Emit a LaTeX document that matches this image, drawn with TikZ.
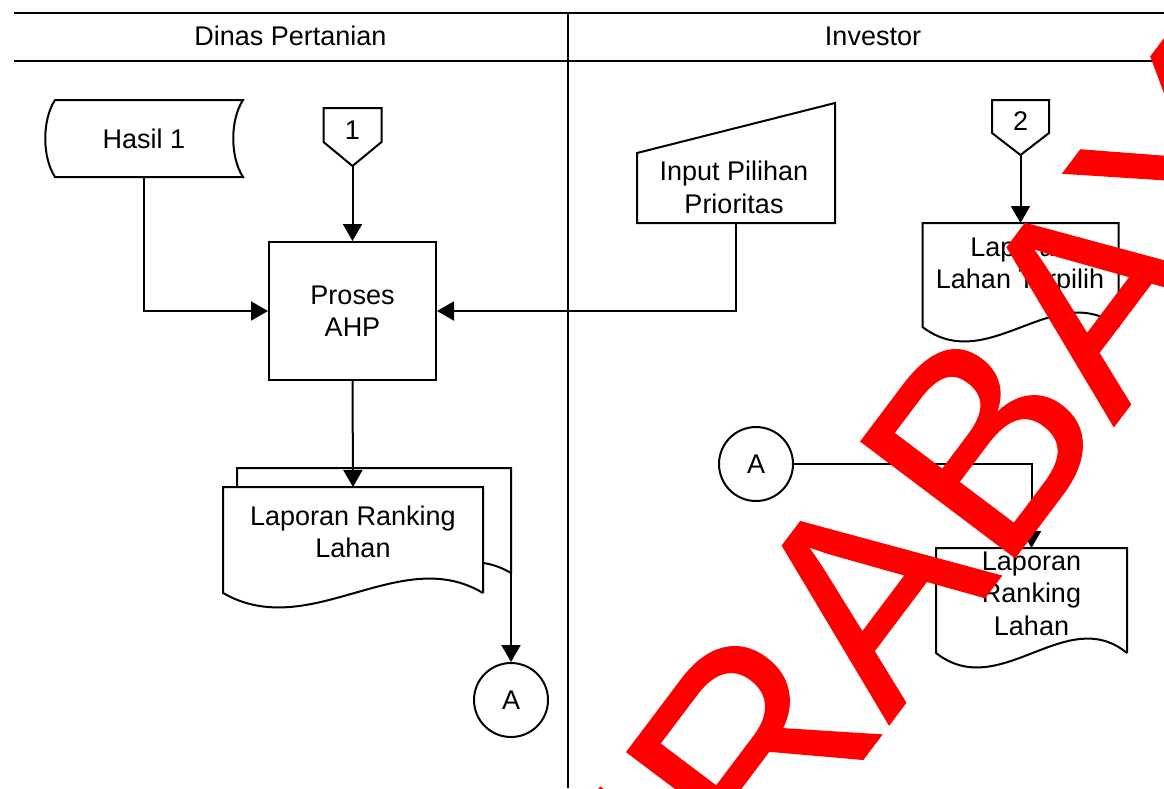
\documentclass[tikz,border=0pt]{standalone}
\usepackage{fontspec}
\setmainfont{Liberation Sans}
\newfontfamily\wmfont[FakeBold=0.6]{Liberation Sans}
\usetikzlibrary{arrows.meta,calc}
\definecolor{wmred}{RGB}{255,0,0}
\begin{document}
\begin{tikzpicture}[x=1pt,y=-1pt,
  rule/.style={draw=black, line width=2pt},
  shapeframe/.style={draw=none, rectangle, inner sep=0pt, outer sep=0pt},
  shapeline/.style={draw=black, line width=2pt, line join=miter},
  lbl/.style={inner sep=0pt, align=center, text=black, font=\fontsize{27}{32.5}\selectfont},
  procbox/.style={draw=black, line width=2pt, rectangle, inner sep=0pt, align=center, font=\fontsize{27}{32.5}\selectfont},
  conn/.style={draw=black, line width=2pt, circle, minimum size=74pt, inner sep=0pt, font=\fontsize{27}{32.5}\selectfont},
  flowarrow/.style={draw=black, line width=2pt, -{Triangle[length=17pt,width=19pt]}},
]
\useasboundingbox (0,0) rectangle (1164,788);

% swimlane frame
\draw[rule] (14,13) -- (1164,13);
\draw[rule] (14,61) -- (1164,61);
\draw[rule] (568,13) -- (568,788);
\node[lbl] (laneA) at (290.5,36) {Dinas Pertanian};
\node[lbl] (laneB) at (873,36) {Investor};

% stored data: Hasil 1
\node[shapeframe, minimum width=198pt, minimum height=77pt] (hasil) at (144,138.5) {};
\draw[shapeline] ($(hasil.north west)+(10,0)$) -- (hasil.north east)
  .. controls +(-13,20) and +(-13,-20) .. (hasil.south east)
  -- ($(hasil.south west)+(10,0)$)
  .. controls +(-13,-20) and +(-13,20) .. ($(hasil.north west)+(10,0)$) -- cycle;
\node[lbl] (hasil-t) at (hasil) {Hasil 1};

% off-page connector 1
\node[shapeframe, minimum width=58pt, minimum height=58pt] (c1) at (352.5,137) {};
\draw[shapeline] (c1.north west) -- (c1.north east) -- ($(c1.north east)+(0,34)$)
  -- (c1.south) -- ($(c1.north west)+(0,34)$) -- cycle;
\node[lbl] (c1-t) at (352.5,130) {1};

% process
\node[procbox, minimum width=167pt, minimum height=138pt] (proses) at (352.5,311) {Proses\\AHP};

% manual input
\node[shapeframe, minimum width=198pt, minimum height=120pt] (inp) at (736,163) {};
\draw[shapeline] (inp.south west) -- ($(inp.north west)+(0,50)$) -- (inp.north east)
  -- (inp.south east) -- cycle;
\node[lbl] (inp-t) at (734,187.5) {Input Pilihan\\Prioritas};

% off-page connector 2
\node[shapeframe, minimum width=57pt, minimum height=55pt] (c2) at (1020.5,127.5) {};
\draw[shapeline] (c2.north west) -- (c2.north east) -- ($(c2.north east)+(0,33)$)
  -- (c2.south) -- ($(c2.north west)+(0,33)$) -- cycle;
\node[lbl] (c2-t) at (1020.5,121) {2};

% document: Laporan Lahan Terpilih
\node[shapeframe, minimum width=196pt, minimum height=104pt] (lt) at (1020.5,275) {};
\draw[shapeline] (lt.south east) -- (lt.north east) -- (lt.north west) -- (lt.south west)
  .. controls ($(lt.south west)!0.335!(lt.south east)+(0,50)$)
  and ($(lt.south west)!0.68!(lt.south east)+(0,-50)$) .. (lt.south east);
\node[lbl] (lt-t) at (1020,266) {Laporan\\Lahan Terpilih};

% multi-document: Laporan Ranking Lahan
\node[shapeframe, minimum width=260pt, minimum height=106pt] (lrl) at (353,540) {};
\coordinate (lrl-out) at ($(lrl.south east)+(28,-20)$);
\draw[shapeline] ($(lrl.north west)+(14,0)$) -- ($(lrl.north west)+(14,-19)$)
  -- ($(lrl.north east)+(28,-19)$) -- (lrl-out)
  .. controls +(-10,-6) and +(8,1) .. ($(lrl.south east)+(0,-30)$);
\draw[shapeline] (lrl.south east) -- (lrl.north east) -- (lrl.north west) -- (lrl.south west)
  .. controls ($(lrl.south west)!0.335!(lrl.south east)+(0,50)$)
  and ($(lrl.south west)!0.68!(lrl.south east)+(0,-50)$) .. (lrl.south east);
\node[lbl] (lrl-t) at (353,532) {Laporan Ranking\\Lahan};

% on-page connectors
\node[conn] (aL) at (511,700) {A};
\node[conn] (aR) at (756,464) {A};

% document: Laporan Ranking Lahan (investor)
\node[shapeframe, minimum width=191pt, minimum height=105pt] (rrl) at (1031.5,600.5) {};
\draw[shapeline] (rrl.south east) -- (rrl.north east) -- (rrl.north west) -- (rrl.south west)
  .. controls ($(rrl.south west)!0.335!(rrl.south east)+(0,50)$)
  and ($(rrl.south west)!0.68!(rrl.south east)+(0,-50)$) .. (rrl.south east);
\node[lbl] (rrl-t) at (1031.5,593.5) {Laporan\\Ranking\\Lahan};

% flows
\draw[flowarrow] (hasil.south) |- (proses.west);
\draw[flowarrow] (c1.south) -- (proses.north);
\draw[flowarrow] (inp.south) |- (proses.east);
\draw[flowarrow] (proses.south) -- (lrl.north);
\draw[flowarrow] (lrl-out) -- (aL.north);
\draw[flowarrow] (c2.south) -- (lt.north);
\draw[flowarrow] (aR.east) -| (rrl.north);

% watermark
\begin{scope}
  \clip (0,0) rectangle (1164,788);
  \node[rotate=53, anchor=base west, inner sep=0pt, text=wmred,
        font=\wmfont\fontsize{280}{280}\selectfont] (wm) at (533,1197) {SURABAYA};
\end{scope}
\end{tikzpicture}
\end{document}
